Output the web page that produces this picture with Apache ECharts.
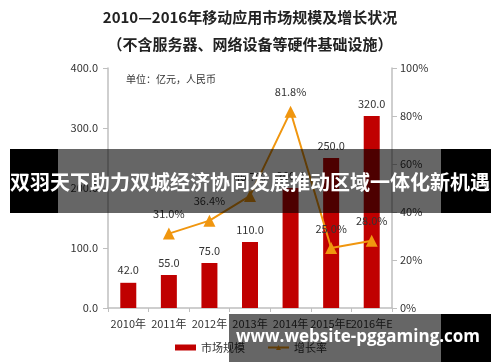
<!DOCTYPE html>
<html><head><meta charset="utf-8">
<script src="https://cdn.jsdelivr.net/npm/echarts@6/dist/echarts.min.js"></script>
<style>html,body{margin:0;padding:0;background:#fff}#c{width:500px;height:362px}</style>
</head><body><div id="c"></div>
<script>
const categories = ['2010年','2011年','2012年','2013年','2014年','2015年E','2016年E'];
const marketSize = [42.0, 55.0, 75.0, 110.0, 200.0, 250.0, 320.0];
const growthRate = [null, 31.0, 36.4, 46.7, 81.8, 25.0, 28.0];
const seriesNames = ['市场规模', '增长率'];
const titleLines = ['2010—2016年移动应用市场规模及增长状况', '（不含服务器、网络设备等硬件基础设施）'];
const unitText = '单位：亿元，人民币';
const bannerText = '双羽天下助力双城经济协同发展推动区域一体化新机遇';
const watermarkText = 'www.website-pggaming.com';

const F = '"Noto Sans CJK SC", "Noto Sans", sans-serif';
const chart = echarts.init(document.getElementById('c'), null, {renderer: 'canvas'});
chart.setOption({
  animation: false,
  textStyle: {fontFamily: F},
  title: [
    {text: titleLines[0], left: 'center', top: 5, textStyle: {fontSize: 15, fontWeight: 'bold', color: '#222', fontFamily: F}},
    {text: titleLines[1], left: 'center', top: 32, textStyle: {fontSize: 15, fontWeight: 'bold', color: '#222', fontFamily: F}},
    {text: unitText, left: 121, top: 69, textStyle: {fontSize: 10, fontWeight: 'normal', color: '#333', fontFamily: F}}
  ],
  grid: {left: 108, right: 108, top: 68, bottom: 54},
  legend: {
    bottom: 4, left: 170, itemGap: 22, itemWidth: 21, itemHeight: 6,
    textStyle: {fontSize: 11, color: '#333', fontFamily: F},
    data: [{name: seriesNames[0], icon: 'rect'}, {name: seriesNames[1]}]
  },
  xAxis: {
    type: 'category', data: categories,
    axisLine: {lineStyle: {color: '#bfbfbf', width: 1.5}},
    axisTick: {show: true, length: 4, lineStyle: {color: '#bfbfbf'}},
    axisLabel: {fontSize: 11, color: '#333', margin: 10, interval: 0}
  },
  yAxis: [
    {type: 'value', min: 0, max: 400, interval: 100,
     axisLine: {show: true, lineStyle: {color: '#bfbfbf', width: 1.5}},
     axisTick: {show: true, length: 5, lineStyle: {color: '#bfbfbf'}},
     splitLine: {show: false},
     axisLabel: {fontSize: 11, color: '#333', margin: 10, formatter: v => v.toFixed(1)}},
    {type: 'value', min: 0, max: 100, interval: 20,
     axisLine: {show: true, lineStyle: {color: '#bfbfbf', width: 1.5}},
     axisTick: {show: true, length: 5, lineStyle: {color: '#bfbfbf'}},
     splitLine: {show: false},
     axisLabel: {fontSize: 11, color: '#333', margin: 8, formatter: v => v + '%'}}
  ],
  series: [
    {name: seriesNames[0], type: 'bar', data: marketSize, barWidth: 16,
     itemStyle: {color: '#C00000'},
     label: {show: true, position: 'top', distance: 7, fontSize: 11, color: '#333', formatter: p => p.value.toFixed(1)}},
    {name: seriesNames[1], type: 'line', yAxisIndex: 1, data: growthRate,
     connectNulls: false,
     lineStyle: {color: '#F0960F', width: 2},
     itemStyle: {color: '#F0960F'},
     symbol: 'triangle', symbolSize: 12, showAllSymbol: true,
     label: {show: true, position: 'top', distance: 8, fontSize: 11, color: '#333', formatter: p => p.value.toFixed(1) + '%'}}
  ],
  graphic: [
    {type: 'rect', z: 100, shape: {x: 10, y: 149, width: 48, height: 64}, style: {fill: '#000'}},
    {type: 'rect', z: 100, shape: {x: 58, y: 149, width: 383, height: 64}, style: {fill: 'rgba(0,0,0,0.6)'}},
    {type: 'rect', z: 100, shape: {x: 441, y: 149, width: 50, height: 64}, style: {fill: '#000'}},
    {type: 'text', z: 101, x: 250, y: 182, style: {text: bannerText, fill: '#fff', font: 'bold 20px ' + F, textAlign: 'center', textVerticalAlign: 'middle'}},
    {type: 'rect', z: 100, shape: {x: 229, y: 314, width: 212, height: 48}, style: {fill: 'rgba(0,0,0,0.6)'}},
    {type: 'rect', z: 100, shape: {x: 441, y: 314, width: 50, height: 48}, style: {fill: '#000'}},
    {type: 'text', z: 101, x: 358, y: 337, style: {text: watermarkText, fill: '#fff', font: 'bold 17px "Open Sans", sans-serif', textAlign: 'center', textVerticalAlign: 'middle'}}
  ]
});
</script></body></html>
